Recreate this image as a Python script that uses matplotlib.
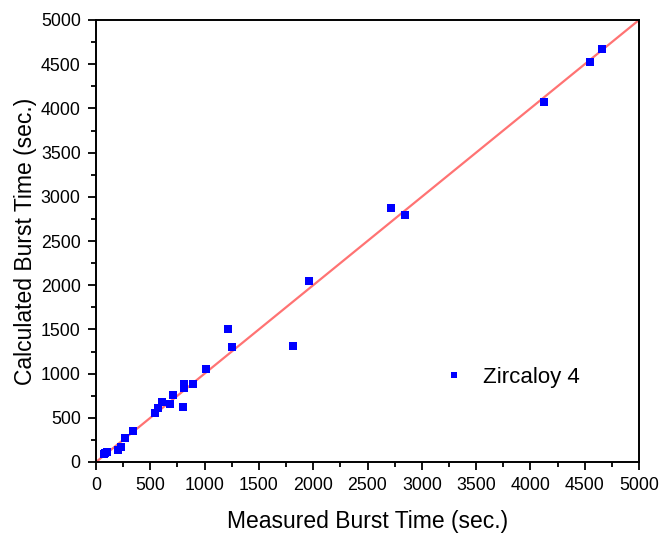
import matplotlib
matplotlib.use("Agg")
import matplotlib.pyplot as plt
from matplotlib.ticker import MultipleLocator

plt.rcParams["font.family"] = ["Liberation Sans", "DejaVu Sans"]

# measured vs calculated burst time (sec.)
measured = [70, 85, 100, 205, 230, 267, 343, 543, 567, 604, 681, 705, 803,
            810, 810, 889, 1009, 1211, 1248, 1818, 1960, 2714, 2849,
            4128, 4551, 4655]
calculated = [88, 98, 115, 140, 175, 268, 351, 551, 611, 682, 656, 758, 626,
              833, 882, 882, 1056, 1505, 1305, 1316, 2051, 2873, 2798,
              4076, 4525, 4672]
series_label = "Zircaloy 4"
ref_line = [0, 5000]

fig = plt.figure(figsize=(6.66, 5.34), dpi=100)
ax = fig.add_axes([96 / 666, 1 - 462 / 534, 543 / 666, 442 / 534])

# 1:1 reference line, then the data
ax.plot(ref_line, ref_line, color="#ff7373", linewidth=1.6, zorder=2)
ax.plot(measured, calculated, linestyle="none", marker="s", markersize=6,
        color="#0000ff", markeredgewidth=0, zorder=3, label=series_label)

ax.set_xlim(0, 5000)
ax.set_ylim(0, 5000)
ax.xaxis.set_major_locator(MultipleLocator(500))
ax.yaxis.set_major_locator(MultipleLocator(500))
ax.xaxis.set_minor_locator(MultipleLocator(250))
ax.yaxis.set_minor_locator(MultipleLocator(250))
ax.tick_params(which="major", direction="out", length=6, width=1.3,
               labelsize=12.8, pad=5)
ax.tick_params(which="minor", direction="out", length=3.5, width=1.3)
for sp in ax.spines.values():
    sp.set_linewidth(1.4)

ax.set_xlabel("Measured Burst Time (sec.)", fontsize=16.5, labelpad=11)
ax.set_ylabel("Calculated Burst Time (sec.)", fontsize=16.5, labelpad=3)

leg = ax.legend(loc="center left", bbox_to_anchor=(0.602, 0.192), frameon=False,
                fontsize=16, markerscale=0.7, handlelength=1.0,
                handletextpad=0.8)

fig.savefig("out.png", dpi=100)
